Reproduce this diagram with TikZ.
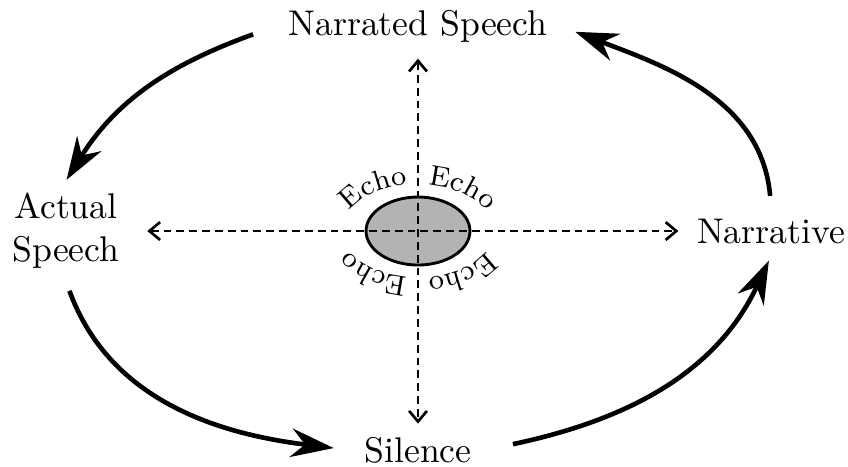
\documentclass[tikz,border=0pt]{standalone}
\usetikzlibrary{arrows.meta, calc, decorations.text}
\definecolor{echogray}{HTML}{B3B3B3}
\tikzset{
  flow/.style={-{Stealth[length=12pt, width=8pt]}, line width=1.3pt},
  axis/.style={{Straight Barb[length=3pt, width=5pt]}-{Straight Barb[length=3pt, width=5pt]}, line width=0.75pt, dash pattern=on 2.2pt off 1.4pt},
  echo/.style={decorate, decoration={text along path, text align=center, text={|\footnotesize|Echo}}}
}

\begin{document}
\begin{tikzpicture}
\useasboundingbox (-4.118,-2.315) rectangle (4.236,2.276);
\coordinate (c) at (0,0);
\node (narr) at (0,2.02) {Narrated Speech};
\node (silence) at (0,-2.16) {Silence};
\node (narrative) at (3.478,0) {Narrative};
\node[align=center] (actual) at (-3.468,0) {Actual\\Speech};
% the echo in the middle
\filldraw[fill=echogray, line width=0.8pt] (c) ellipse (0.512 and 0.335);
\draw[axis, shorten <=0.15cm, shorten >=0.06cm] (actual.east) -- (narrative.west);
\draw[axis, shorten <=0.04cm, shorten >=0.01cm] (narr.south) -- (silence.north);
\path[echo] ($(c)+({0.75*cos(175)},{0.46*sin(175)})$) arc[start angle=175, end angle=85, x radius=0.75, y radius=0.46];
\path[echo] ($(c)+({0.75*cos(95)},{0.46*sin(95)})$) arc[start angle=95, end angle=5, x radius=0.75, y radius=0.46];
\path[echo] ($(c)+({0.75*cos(275)},{0.46*sin(275)})$) arc[start angle=275, end angle=185, x radius=0.75, y radius=0.46];
\path[echo] ($(c)+({0.75*cos(355)},{0.46*sin(355)})$) arc[start angle=355, end angle=265, x radius=0.75, y radius=0.46];
% the cycle
\draw[flow, shorten <=0.24cm, shorten >=0.01cm] (narr.west) to[out=200, in=58] (actual.north);
\draw[flow, shorten <=0.1cm, shorten >=0.18cm] (actual.south) to[out=-70, in=173] (silence.west);
\draw[flow, shorten <=0.29cm, shorten >=0.05cm] (silence.east) to[out=12, in=245] (narrative.south);
\draw[flow, shorten <=0.1cm, shorten >=0.16cm] (narrative.north) to[out=95, in=-21] (narr.east);
\end{tikzpicture}
\end{document}
